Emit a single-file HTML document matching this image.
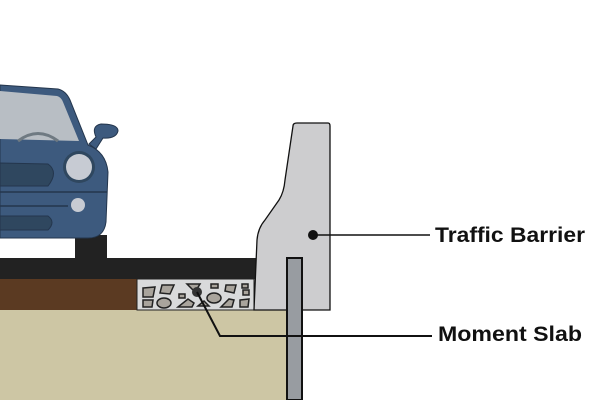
<!DOCTYPE html>
<html><head><style>body{margin:0;background:#fff}svg{display:block}</style></head><body>
<svg width="600" height="400" viewBox="0 0 600 400" xmlns="http://www.w3.org/2000/svg">
<rect width="600" height="400" fill="#fff"/>
<!-- ground -->
<rect x="0" y="310" width="288" height="90" fill="#cdc6a4"/>
<rect x="0" y="279" width="137" height="31" fill="#5b3a22"/>
<rect x="137" y="279" width="117" height="31" fill="#d9dadb" stroke="#222" stroke-width="1"/>
<g fill="#a9a49c" stroke="#222" stroke-width="1.5">
<polygon points="143,288 155,287 153,297 143,297"/>
<polygon points="162,285 174,285 170,294 160,293"/>
<polygon points="187,284 200,284 195,292"/>
<rect x="211" y="284" width="7" height="4"/>
<polygon points="226,285 236,285 234,293 225,291"/>
<rect x="242" y="284" width="6" height="4"/>
<rect x="179" y="294" width="6" height="4"/>
<ellipse cx="214" cy="298" rx="7" ry="5"/>
<rect x="243" y="290" width="6" height="5"/>
<polygon points="143,300 153,300 152,307 143,307"/>
<ellipse cx="164" cy="303" rx="7" ry="5"/>
<polygon points="178,307 188,299 194,303 192,307"/>
<polygon points="198,306 204,301 209,306"/>
<polygon points="221,307 229,299 234,300 232,307"/>
<polygon points="240,300 249,299 248,307 240,307"/>
</g>
<rect x="0" y="258" width="258" height="21" fill="#222"/>
<!-- car support -->
<rect x="75" y="235" width="32" height="24" fill="#222"/>
<!-- car -->
<path d="M0,85 L58,89 Q66,91 70,100 L88,145 Q106,152 108,172 L106,222 Q104,238 88,238 L0,238 Z" fill="#3d5a7e" stroke="#24364d" stroke-width="1"/>
<path d="M0,91 L57,96 Q61,97 63,102 L79,141 L0,139 Z" fill="#b8bec4"/>
<path d="M18,141 Q38,126 58,141" fill="none" stroke="#6f7a82" stroke-width="3"/>
<path d="M89,144 L96,137 Q91,126 101,124 Q118,124 118,131 Q116,139 103,138 L96,149 Z" fill="#3d5a7e" stroke="#24364d" stroke-width="1"/>
<path d="M0,163 L48,164 Q59,172 48,186 L0,186 Z" fill="#2f475f" stroke="#24364d"/>
<circle cx="79" cy="167" r="16" fill="#2f475f"/>
<circle cx="79" cy="167" r="13" fill="#c7cbd3"/>
<line x1="0" y1="192" x2="107" y2="192" stroke="#24364d" stroke-width="1.5"/>
<line x1="0" y1="206" x2="68" y2="206" stroke="#24364d" stroke-width="1.5"/>
<circle cx="78" cy="205" r="7" fill="#c7cbd3"/>
<path d="M0,216 L48,216 Q56,222 48,230 L0,230 Z" fill="#2f475f" stroke="#24364d"/>
<!-- barrier -->
<path d="M293,126 Q293,123 297,123 L328,123 Q330,123 330,126 L330,310 L254,310 L257,240 Q258,228 265,220 L279,200 Q284,192 285,180 Z" fill="#cdcdcf" stroke="#111" stroke-width="1.3"/>
<!-- pole -->
<rect x="287" y="258" width="15" height="142" fill="#989ca1" stroke="#111" stroke-width="2"/>
<!-- leaders -->
<circle cx="313" cy="235" r="5" fill="#111"/>
<line x1="313" y1="235" x2="430" y2="235" stroke="#111" stroke-width="1.5"/>
<circle cx="197" cy="292" r="5" fill="#333"/>
<polyline points="197,292 220,336 432,336" fill="none" stroke="#111" stroke-width="2"/>
<text x="435" y="242" font-family="Liberation Sans, sans-serif" font-weight="bold" font-size="21" textLength="150" lengthAdjust="spacingAndGlyphs" fill="#111">Traffic Barrier</text>
<text x="438" y="341" font-family="Liberation Sans, sans-serif" font-weight="bold" font-size="21" textLength="144" lengthAdjust="spacingAndGlyphs" fill="#111">Moment Slab</text>
</svg>
</body></html>
